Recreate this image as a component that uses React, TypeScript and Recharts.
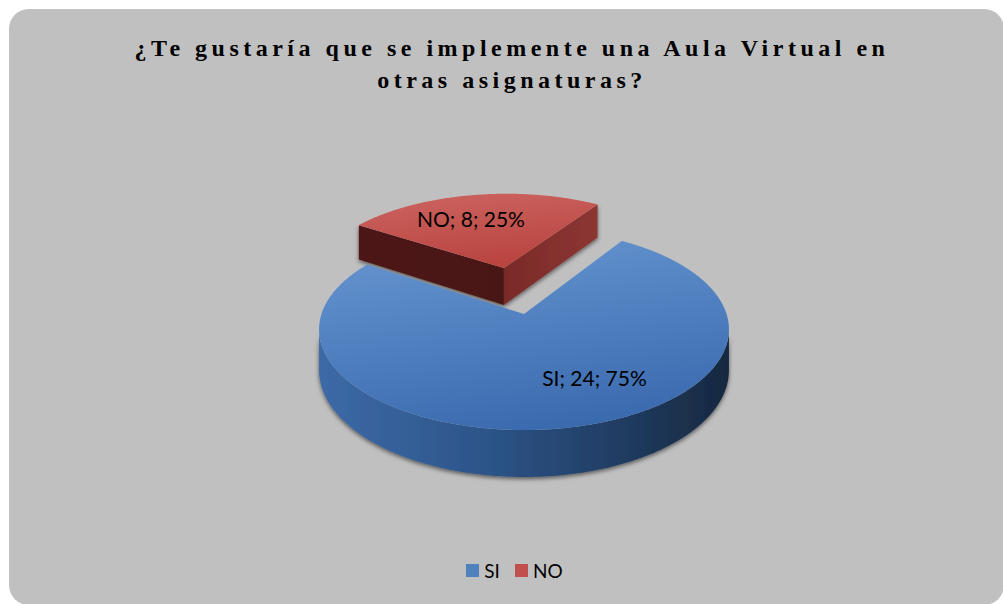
import React from "react";
import { PieChart, Pie, Legend } from "recharts";

// ---- data ----
const categories = ["SI", "NO"];
const counts = [24, 8];
const titleLines = ["¿Te gustaría que se implemente una Aula Virtual en", "otras asignaturas?"];

// ---- styles ----
const legendColors = ["#4f81bd", "#c0504d"];
const topColors = [
  ["#6493cf", "#3a6aae"],
  ["#cb625e", "#b8423e"],
];
const wallColors = [
  ["#3c6aa7", "#2d5589", "#213f66", "#17283f"],
  ["#9a3a37", "#7a2a28", "#5e1f1e", "#4a1716"],
];
// radial faces: [face on the start edge, face on the end edge]
const radialColors = [
  [["#2c5282", "#223f66"], ["#2c5282", "#223f66"]],
  [["#7a2a28", "#8c3634"], ["#4e1817", "#4a1716"]],
];
const explodedCategory = "NO";

const data = categories.map((name, i) => ({ name, value: counts[i] }));

const W = 1003;
const H = 604;
// pie geometry (perspective 3D projection)
const CX = 524;
const CY = 314;
const R = 205;
const START = 57;
const S = 0.988; // screen scale
const T = 0.4854; // vertical tilt
const PERSP = 0.000744; // perspective strength
const THICK = 40.3; // pie thickness
const EXPLODE = 0.515; // explosion distance (fraction of radius)
const LABEL_R = 0.67;
const LABEL_SHIFT = 0.06;
const RAD = Math.PI / 180;

function proj(cx: number, cy: number, u: number, v: number, down: number): [number, number] {
  const k = 1 / (1 + PERSP * v);
  return [cx + S * u * k, cy + S * k * (-v * T + down)];
}

function geom(p: any) {
  const name = p?.payload?.name ?? p.name;
  const idx = Math.max(0, categories.indexOf(name));
  const ex = name === explodedCategory;
  const mid = p.midAngle * RAD;
  const r = p.outerRadius;
  const e = ex ? EXPLODE * r : 0;
  const u0 = e * Math.cos(mid);
  const v0 = e * Math.sin(mid);
  const lo = Math.min(p.startAngle, p.endAngle);
  const hi = Math.max(p.startAngle, p.endAngle);
  const P = (a: number, down: number) =>
    proj(p.cx, p.cy, u0 + r * Math.cos(a * RAD), v0 + r * Math.sin(a * RAD), down);
  const C = (down: number) => proj(p.cx, p.cy, u0, v0, down);
  const arc = (a1: number, a2: number, down: number) => {
    const n = Math.max(2, Math.ceil(Math.abs(a2 - a1) / 0.5));
    const pts: [number, number][] = [];
    for (let i = 0; i <= n; i++) pts.push(P(a1 + ((a2 - a1) * i) / n, down));
    return pts;
  };
  // face visibility: outward normal (at angle n) facing camera
  const faces = (nDeg: number, pu: number, pv: number) =>
    Math.cos(nDeg * RAD) * (0 - pu) + Math.sin(nDeg * RAD) * (-1 / PERSP - pv) > 0;
  return { name, idx, r, u0, v0, lo, hi, P, C, arc, faces, cx: p.cx, cy: p.cy };
}

const toPath = (pts: [number, number][]) =>
  pts.map((q, i) => `${i ? "L" : "M"}${q[0].toFixed(2)},${q[1].toFixed(2)}`).join(" ") + " Z";

function renderWalls(p: any) {
  const g = geom(p);
  const id = `wall${g.idx}`;
  const parts: any[] = [];
  // radial (cut) faces
  const edges: [number, number, number][] = [
    [g.lo, g.lo - 90, 0],
    [g.hi, g.hi + 90, 1],
  ];
  if (g.hi - g.lo < 359.9) {
    edges.forEach(([a, n, k]) => {
      if (g.faces(n, g.u0, g.v0)) {
        const pts = [g.C(0), g.P(a, 0), g.P(a, THICK), g.C(THICK)];
        parts.push(<path key={"r" + k} d={toPath(pts)} fill={`url(#${id}r${k})`} />);
      }
    });
  }
  // outer curved wall: visible runs
  const step = 0.5;
  let run: number[] = [];
  const runs: number[][] = [];
  for (let a = g.lo; a <= g.hi + 1e-6; a += step) {
    const vis = g.faces(a, g.u0 + g.r * Math.cos(a * RAD), g.v0 + g.r * Math.sin(a * RAD));
    if (vis) run.push(a);
    else if (run.length) {
      runs.push(run);
      run = [];
    }
  }
  if (run.length) runs.push(run);
  runs.forEach((rn, k) => {
    if (rn.length < 2) return;
    const a1 = rn[0];
    const a2 = rn[rn.length - 1];
    const pts = [...g.arc(a1, a2, 0), ...g.arc(a2, a1, THICK)];
    parts.push(<path key={"o" + k} d={toPath(pts)} fill={`url(#${id}o)`} />);
  });
  const wc = wallColors[g.idx];
  const rc = radialColors[g.idx];
  return (
    <g key={id}>
      <defs>
        <filter id={`${id}sh`} x="-10%" y="-20%" width="120%" height="150%">
          <feDropShadow dx="0" dy="2" stdDeviation="2" floodColor="#000" floodOpacity="0.55" />
        </filter>
        <linearGradient id={`${id}o`} x1="0" y1="0" x2="1" y2="0">
          <stop offset="0" stopColor={wc[0]} />
          <stop offset="0.4" stopColor={wc[1]} />
          <stop offset="0.7" stopColor={wc[2]} />
          <stop offset="1" stopColor={wc[3]} />
        </linearGradient>
        {rc.map((c, k) => (
          <linearGradient key={k} id={`${id}r${k}`} x1="0" y1="0" x2="1" y2="0">
            <stop offset="0" stopColor={c[0]} />
            <stop offset="1" stopColor={c[1]} />
          </linearGradient>
        ))}
      </defs>
      <g filter={`url(#${id}sh)`}>{parts}</g>
    </g>
  );
}

function renderTop(p: any) {
  const g = geom(p);
  const id = `top${g.idx}`;
  const pts = [g.C(0), ...g.arc(g.lo, g.hi, 0)];
  const c = topColors[g.idx];
  return (
    <g key={id}>
      <defs>
        <linearGradient id={id} x1="0.3" y1="0" x2="0.6" y2="1">
          <stop offset="0" stopColor={c[0]} />
          <stop offset="1" stopColor={c[1]} />
        </linearGradient>
      </defs>
      <path d={toPath(pts)} fill={`url(#${id})`} />
    </g>
  );
}

function renderText(p: any) {
  const g = geom(p);
  const a = (p.midAngle + LABEL_SHIFT * (g.hi - g.lo)) * RAD;
  const rr = LABEL_R * g.r;
  const [x, y] = proj(g.cx, g.cy, g.u0 + rr * Math.cos(a), g.v0 + rr * Math.sin(a), 0);
  const pct = Math.round(p.percent * 100);
  return (
    <text
      key={"t" + g.idx}
      x={x}
      y={y}
      textAnchor="middle"
      dominantBaseline="central"
      fontFamily="Lato, 'Open Sans', sans-serif"
      fontSize={21}
      fill="#000"
    >
      {`${g.name}; ${p.value}; ${pct}%`}
    </text>
  );
}

function renderLegend(props: any) {
  const payload = props?.payload || [];
  const seen: string[] = [];
  payload.forEach((e: any) => {
    if (e && e.value != null && !seen.includes(String(e.value))) seen.push(String(e.value));
  });
  const items = (seen.length ? seen : categories)
    .slice()
    .sort((a, b) => categories.indexOf(a) - categories.indexOf(b));
  return (
    <div
      style={{
        display: "flex",
        justifyContent: "center",
        alignItems: "center",
        height: 22,
        fontFamily: "Lato, 'Open Sans', sans-serif",
        fontSize: 19,
        color: "#000",
      }}
    >
      {items.map((name, i) => (
        <div key={name} style={{ display: "flex", alignItems: "center", marginLeft: i ? 15 : 0 }}>
          <span
            style={{
              display: "inline-block",
              width: 13,
              height: 13,
              background: legendColors[categories.indexOf(name)],
              marginRight: 5,
            }}
          />
          <span>{name}</span>
        </div>
      ))}
    </div>
  );
}

export default function App() {
  const pieCommon = {
    data,
    dataKey: "value",
    nameKey: "name",
    cx: CX,
    cy: CY,
    outerRadius: R,
    startAngle: START,
    endAngle: START - 360,
    fill: "none",
    stroke: "none",
    isAnimationActive: false,
    labelLine: false,
  };
  return (
    <div
      style={{
        position: "fixed",
        left: 0,
        top: 0,
        width: W,
        height: H,
        overflow: "hidden",
        background: "#ffffff",
      }}
    >
      <div
        style={{
          position: "absolute",
          left: 9,
          top: 9,
          width: 995,
          height: 596,
          background: "#c0c0c0",
          borderRadius: 20,
        }}
      />
      <div
        style={{
          position: "absolute",
          left: 7,
          top: 31.9,
          width: 1010,
          textAlign: "center",
          fontFamily: "'Liberation Serif', 'Times New Roman', serif",
          fontWeight: "bold",
          fontSize: 24,
          lineHeight: "32px",
          letterSpacing: 4.5,
          color: "#000",
        }}
      >
        {titleLines.map((l) => (
          <div key={l}>{l}</div>
        ))}
      </div>
      <div style={{ position: "absolute", left: 0, top: 0 }}>
        <PieChart width={W} height={H} margin={{ top: 0, right: 0, bottom: 0, left: 0 }}>
          <Pie {...(pieCommon as any)} legendType="none" label={renderWalls} />
          <Pie {...(pieCommon as any)} legendType="square" label={renderTop} />
          <Pie {...(pieCommon as any)} legendType="none" label={renderText} />
          <Legend
            content={renderLegend}
            wrapperStyle={{ position: "absolute", left: 13, top: 559, width: W, height: 22 }}
          />
        </PieChart>
      </div>
    </div>
  );
}
